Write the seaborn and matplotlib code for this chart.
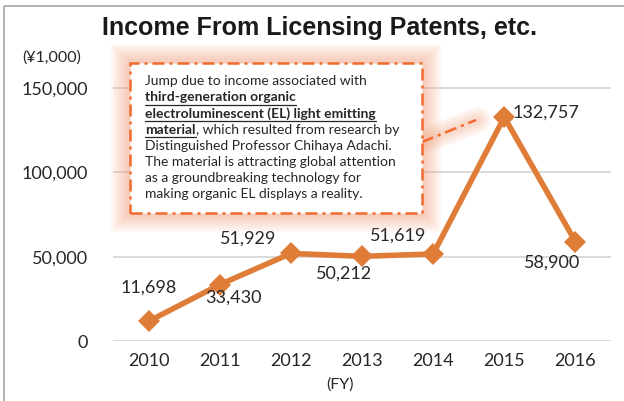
import matplotlib.pyplot as plt
import seaborn as sns
import pandas as pd
from matplotlib.patches import Rectangle
from matplotlib.lines import Line2D

# Data (unit: 1,000 yen)
years = [2010, 2011, 2012, 2013, 2014, 2015, 2016]
income = [11698, 33430, 51929, 50212, 51619, 132757, 58900]
y_ticks = [0, 50000, 100000, 150000]

# where each value label sits relative to its marker (pixels, +down)
label_dx_px = [0, 14, -43, -18, -35, 42, -23]
label_dy_px = [-34, 13, -15, 17, -18, -5, 21]

title = 'Income From Licensing Patents, etc.'
unit_label = '(¥1,000)'
x_label = '(FY)'

# callout text: list of lines, each a list of (text, bold+underlined)
note_lines = [
    [('Jump due to income associated with', False)],
    [('third-generation organic', True)],
    [('electroluminescent (EL) light emitting', True)],
    [('material', True), (', which resulted from research by', False)],
    [('Distinguished Professor Chihaya Adachi.', False)],
    [('The material is attracting global attention', False)],
    [('as a groundbreaking technology for', False)],
    [('making organic EL displays a reality.', False)],
]

W, H = 624, 401
LINE_COLOR = '#DF7D38'
NOTE_COLOR = '#F26A2E'
GLOW_COLOR = '#F4A27C'
TEXT_COLOR = '#262626'

sns.set_theme(style="white")
plt.rcParams['font.family'] = ['Lato', 'DejaVu Sans']


def fx(x):
    return x / W


def fy(y):
    return 1 - y / H


fig = plt.figure(figsize=(W / 100, H / 100), dpi=100)
fig.patch.set_facecolor('white')

# outer frame of the slide
fig.patches.append(Rectangle((fx(4), fy(6)), 1.2, -1.2, transform=fig.transFigure,
                             fill=False, edgecolor='#A6A6A6', lw=1.2, zorder=0))

ax = fig.add_axes([fx(113), fy(341), (611 - 113) / W, (341 - 84.7) / H])
ax.set_facecolor('none')

df = pd.DataFrame({'year': years, 'income': income})
sns.lineplot(data=df, x='year', y='income', color=LINE_COLOR, linewidth=4,
             marker='D', markersize=11.5, markeredgewidth=0, ax=ax, zorder=3)

ax.set_xlim(years[0] - 0.5, years[-1] + 0.5)
ax.set_ylim(0, 152000)
ax.set_xticks(years)
ax.set_xticklabels([str(y) for y in years])
ax.set_yticks(y_ticks)
ax.set_yticklabels([f'{v:,}' for v in y_ticks])
ax.tick_params(axis='y', length=0, pad=18, labelsize=13, labelcolor=TEXT_COLOR)
ax.tick_params(axis='x', length=0, pad=9, labelsize=13, labelcolor=TEXT_COLOR)
ax.set_xlabel('')
ax.set_ylabel('')
for s in ax.spines.values():
    s.set_visible(False)
ax.yaxis.grid(True, color='#D4D4D4', lw=1.2)
ax.xaxis.grid(False)
ax.set_axisbelow(True)

# value labels
for x, v, dx, dy in zip(years, income, label_dx_px, label_dy_px):
    ax.annotate(f'{v:,}', (x, v), xytext=(dx * 0.72, -dy * 0.72), textcoords='offset points',
                ha='center', va='center', fontsize=13, color=TEXT_COLOR, zorder=4)

fig.text(fx(319), fy(28), title, ha='center', va='center', fontsize=18,
         fontweight='bold', family=['Liberation Sans', 'DejaVu Sans'], color='#1A1A1A')
fig.text(fx(52), fy(58), unit_label, ha='center', va='center', fontsize=11.5, color=TEXT_COLOR)
fig.text(fx(340), fy(385), x_label, ha='center', va='center', fontsize=11.5, color=TEXT_COLOR)

# callout: soft glow, white box with dash-dot border
bx0, by0, bx1, by1 = 130, 63, 422, 213
for i in range(10):
    g = 2 * i + 1
    fig.patches.append(Rectangle((fx(bx0 - g), fy(by1 + g)), (bx1 - bx0 + 2 * g) / W,
                                 (by1 - by0 + 2 * g) / H, transform=fig.transFigure,
                                 facecolor=GLOW_COLOR, edgecolor='none', alpha=0.07, zorder=5))
# connector glow
for i in range(6):
    fig.lines.append(Line2D([fx(424), fx(478)], [fy(141), fy(120)], transform=fig.transFigure,
                            color=GLOW_COLOR, lw=4 + 3 * i, alpha=0.08,
                            solid_capstyle='round', zorder=5))
fig.lines.append(Line2D([fx(422), fx(476)], [fy(142), fy(120)], transform=fig.transFigure,
                        color=NOTE_COLOR, lw=1.8, linestyle=(0, (4.8, 2, 1.2, 2)), zorder=6))
fig.patches.append(Rectangle((fx(bx0), fy(by1)), (bx1 - bx0) / W, (by1 - by0) / H,
                             transform=fig.transFigure, facecolor='white', edgecolor=NOTE_COLOR,
                             lw=1.8, linestyle=(0, (4.8, 2, 1.2, 2)), zorder=6))

renderer = fig.canvas.get_renderer()
note_size = 10
for row, segments in enumerate(note_lines):
    cx = 145
    cy = 81 + row * 16.2
    for text, strong in segments:
        t = fig.text(fx(cx), fy(cy), text, ha='left', va='center', fontsize=note_size,
                     fontweight='bold' if strong else 'normal', color=TEXT_COLOR, zorder=7)
        bb = t.get_window_extent(renderer)
        if strong:
            fig.lines.append(Line2D([fx(cx), fx(cx + bb.width)], [fy(cy + 7.5), fy(cy + 7.5)],
                                    transform=fig.transFigure, color=TEXT_COLOR, lw=0.9, zorder=7))
        cx += bb.width

fig.savefig('out.png', dpi=100)
